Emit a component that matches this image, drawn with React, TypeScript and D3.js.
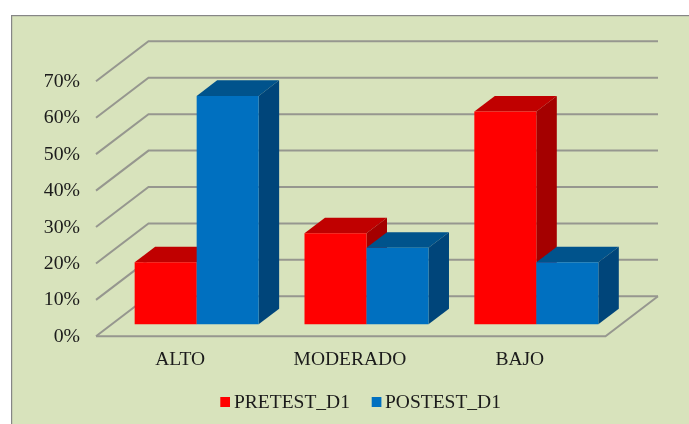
import React from "react";
import * as d3 from "d3";

const categories = ["ALTO", "MODERADO", "BAJO"];
const seriesNames = ["PRETEST_D1", "POSTEST_D1"];
const pretest = [17, 25, 58.4];
const postest = [62.7, 21, 17];
const yTicks = [0, 10, 20, 30, 40, 50, 60, 70];

const BG = "#D8E3BC";
const GRID = "#96978F";
const TEXT = "#1a1a1a";
const FONT = "'Liberation Serif', 'Times New Roman', serif";
const colors = [
  { front: "#FF0000", top: "#C00000", side: "#A40000" },
  { front: "#0070C0", top: "#00528C", side: "#00457A" },
];

const floorLeft = 96;
const floorRight = 605.5;
const floorY = 336.3;
const depthX = 52.5;
const depthY = 40;
const wallH = 255;

const x = d3.scaleBand<string>().domain(categories).range([floorLeft, floorRight]);
const inner = d3.scaleBand<string>().domain(seriesNames).range([-62, 62]);
const y = d3.scaleLinear().domain([0, 70]).range([0, wallH]);

// project: v = value %, px = x on front floor edge, d = depth 0..1
const pt = (px: number, v: number, d: number): [number, number] => [
  px + d * depthX,
  floorY - d * depthY - y(v),
];
const line = d3.line();
const barFront = 0.3;
const barBack = 0.69;

function Bar({ cat, s, v }: { cat: string; s: number; v: number }) {
  const c = (x(cat) as number) + x.bandwidth() / 2;
  const x0 = c + (inner(seriesNames[s]) as number);
  const x1 = x0 + inner.bandwidth();
  const f = barFront;
  const b = barBack;
  const col = colors[s];
  return (
    <g>
      <path d={line([pt(x0, v, f), pt(x1, v, f), pt(x1, v, b), pt(x0, v, b)]) + "Z"} fill={col.top} />
      <path d={line([pt(x1, 0, f), pt(x1, v, f), pt(x1, v, b), pt(x1, 0, b)]) + "Z"} fill={col.side} />
      <path d={line([pt(x0, 0, f), pt(x1, 0, f), pt(x1, v, f), pt(x0, v, f)]) + "Z"} fill={col.front} />
    </g>
  );
}

export default function App() {
  const values = [pretest, postest];
  return (
    <svg
      width={689}
      height={424}
      style={{ position: "absolute", left: 0, top: 0, display: "block" }}
      fontFamily={FONT}
    >
      <defs>
        <filter id="soft" x="0" y="0" width="100%" height="100%">
          <feGaussianBlur stdDeviation="0.4" />
        </filter>
      </defs>
      <rect width={689} height={424} fill="#fff" />
      <g filter="url(#soft)">
        <rect x={11} y={15} width={700} height={430} fill={BG} stroke="#868686" strokeWidth={2.4} />
        <g fill="none" stroke={GRID} strokeWidth={2}>
          {yTicks.map((t) => (
            <path key={t} d={line([pt(floorLeft, t, 0), pt(floorLeft, t, 1), pt(floorRight, t, 1)]) as string} />
          ))}
          <path d={line([pt(floorLeft, 0, 0), pt(floorRight, 0, 0), pt(floorRight, 0, 1)]) as string} />
        </g>
        {categories.map((cat, i) => (
          <g key={cat}>
            {seriesNames.map((_, s) => (
              <Bar key={s} cat={cat} s={s} v={values[s][i]} />
            ))}
          </g>
        ))}
        <g fontSize={19.8} fill={TEXT} textAnchor="end">
          {yTicks.map((t) => (
            <text key={t} x={80} y={floorY - y(t) + 5.5}>{`${t}%`}</text>
          ))}
        </g>
        <g fontSize={19.5} fill={TEXT} textAnchor="middle">
          {categories.map((cat) => (
            <text key={cat} x={(x(cat) as number) + x.bandwidth() / 2 - 0.8} y={365.3}>
              {cat}
            </text>
          ))}
        </g>
        <g fontSize={19.5} fill={TEXT}>
          <rect x={220.3} y={397} width={9.7} height={10} fill={colors[0].front} />
          <text x={234} y={408}>{seriesNames[0]}</text>
          <rect x={371.7} y={397} width={9.7} height={10} fill={colors[1].front} />
          <text x={385} y={408}>{seriesNames[1]}</text>
        </g>
      </g>
    </svg>
  );
}
